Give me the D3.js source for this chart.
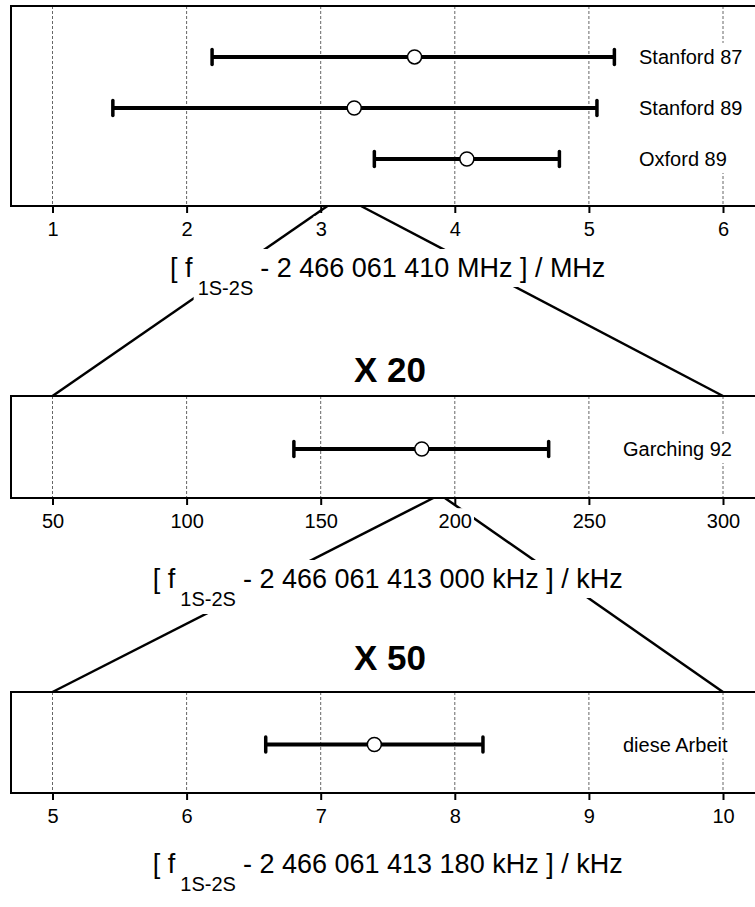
<!DOCTYPE html>
<html>
<head>
<meta charset="utf-8">
<script src="https://cdn.jsdelivr.net/npm/d3@7"></script>
<style>
  body { margin: 0; background: #fff; }
  svg { display: block; }
</style>
</head>
<body>
<svg id="chart" width="755" height="907"></svg>
<script>
"use strict";

// Panel 1: [f - 2 466 061 410 MHz] / MHz
var mhzLabels = ["Stanford 87", "Stanford 89", "Oxford 89"];
var mhzCenter = [3.70, 3.25, 4.09];
var mhzLow    = [2.19, 1.45, 3.40];
var mhzHigh   = [5.19, 5.06, 4.78];
var mhzTicks  = [1, 2, 3, 4, 5, 6];

// Panel 2: [f - 2 466 061 413 000 kHz] / kHz
var khzLabels = ["Garching 92"];
var khzCenter = [187.7];
var khzLow    = [140];
var khzHigh   = [235];
var khzTicks  = [50, 100, 150, 200, 250, 300];

// Panel 3: [f - 2 466 061 413 180 kHz] / kHz
var fineLabels = ["diese Arbeit"];
var fineCenter = [7.40];
var fineLow    = [6.59];
var fineHigh   = [8.21];
var fineTicks  = [5, 6, 7, 8, 9, 10];

// Zoom connectors: [left, right] on the upper axis -> [left, right] on the lower panel top
var zoomFrom1 = [3.05, 3.30];
var zoomTo2   = [50, 300];
var zoomFrom2 = [192, 196.3];
var zoomTo3   = [5, 10];

var zoomFactors = ["X 20", "X 50"];

var titleHead  = "[ f";
var titleSub   = "1S-2S";
var titleTails = [
    "- 2 466 061 410 MHz ] / MHz",
    "- 2 466 061 413 000 kHz ] / kHz",
    "- 2 466 061 413 180 kHz ] / kHz"
];

var FONT = "'Liberation Sans', Arial, Helvetica, sans-serif";

var layout = { left: 11, right: 762, x0: 52.5, x1: 723 };

var panels = [
    { top: 6,   bottom: 206, titleY: 277, labelX: 639, labels: mhzLabels,  center: mhzCenter,  low: mhzLow,  high: mhzHigh,  ticks: mhzTicks,  tail: titleTails[0] },
    { top: 396, bottom: 498, titleY: 588, labelX: 623, labels: khzLabels,  center: khzCenter,  low: khzLow,  high: khzHigh,  ticks: khzTicks,  tail: titleTails[1] },
    { top: 692, bottom: 793, titleY: 873, labelX: 623, labels: fineLabels, center: fineCenter, low: fineLow, high: fineHigh, ticks: fineTicks, tail: titleTails[2] }
];
var factorY = [382, 670];

var svg = d3.select("#chart");

// Scales for each panel
panels.forEach(function(p){
    p.x = d3.scaleLinear()
        .domain([p.ticks[0], p.ticks[p.ticks.length - 1]])
        .range([layout.x0, layout.x1]);
    p.y = d3.scalePoint()
        .domain(p.labels)
        .range([p.top, p.bottom])
        .padding(0.96).align(0.52);
});

// Zoom connector lines (drawn first, text backings cover them)
var connectors = svg.append("g").attr("id", "connectors");
function connect(upper, lower, from, to){
    connectors.selectAll(null)
        .data(d3.zip(from, to))
        .join("line")
        .attr("x1", function(d){ return upper.x(d[0]); })
        .attr("y1", upper.bottom)
        .attr("x2", function(d){ return lower.x(d[1]); })
        .attr("y2", lower.top)
        .attr("stroke", "#000")
        .attr("stroke-width", 2.5);
}
connect(panels[0], panels[1], zoomFrom1, zoomTo2);
connect(panels[1], panels[2], zoomFrom2, zoomTo3);

// White box behind a bounding box, placed before a given node
function whiteBox(parent, before, b, pad){
    parent.insert("rect", function(){ return before; })
        .attr("x", b.x - pad).attr("y", b.y - pad)
        .attr("width", b.width + 2 * pad).attr("height", b.height + 2 * pad)
        .attr("fill", "#fff");
}

// Panels
panels.forEach(function(p){
    var g = svg.append("g");

    // Dashed grid lines at each tick
    g.selectAll("line.grid")
        .data(p.ticks)
        .join("line")
        .attr("class", "grid")
        .attr("x1", p.x).attr("x2", p.x)
        .attr("y1", p.top).attr("y2", p.bottom)
        .attr("stroke", "#666")
        .attr("stroke-width", 1)
        .attr("stroke-dasharray", "3,2");

    // Labels on the right, with a white column behind them
    var lg = g.append("g");
    lg.selectAll("text")
        .data(p.labels)
        .join("text")
        .attr("x", p.labelX)
        .attr("y", function(d){ return p.y(d); })
        .attr("dy", "0.35em")
        .attr("font-family", FONT)
        .attr("font-size", 20)
        .text(function(d){ return d; });
    whiteBox(lg, lg.select("text").node(), lg.node().getBBox(), 3);

    // Error bars
    var bars = g.selectAll("g.bar")
        .data(p.labels.map(function(d, i){
            return { label: d, c: p.center[i], lo: p.low[i], hi: p.high[i] };
        }))
        .join("g")
        .attr("class", "bar");
    bars.append("line")
        .attr("x1", function(d){ return p.x(d.lo); })
        .attr("x2", function(d){ return p.x(d.hi); })
        .attr("y1", function(d){ return p.y(d.label); })
        .attr("y2", function(d){ return p.y(d.label); })
        .attr("stroke", "#000").attr("stroke-width", 4);
    ["lo", "hi"].forEach(function(k){
        bars.append("line")
            .attr("x1", function(d){ return p.x(d[k]); })
            .attr("x2", function(d){ return p.x(d[k]); })
            .attr("y1", function(d){ return p.y(d.label) - 7.5; })
            .attr("y2", function(d){ return p.y(d.label) + 7.5; })
            .attr("stroke", "#000").attr("stroke-width", 3.5)
            .attr("stroke-linecap", "round");
    });
    bars.append("circle")
        .attr("cx", function(d){ return p.x(d.c); })
        .attr("cy", function(d){ return p.y(d.label); })
        .attr("r", 7)
        .attr("fill", "#fff").attr("stroke", "#000").attr("stroke-width", 1.5);

    // Frame
    g.append("rect")
        .attr("x", layout.left).attr("y", p.top)
        .attr("width", layout.right - layout.left).attr("height", p.bottom - p.top)
        .attr("fill", "none").attr("stroke", "#000").attr("stroke-width", 2);

    // Bottom axis
    var ag = g.append("g")
        .attr("transform", "translate(0," + p.bottom + ")")
        .call(d3.axisBottom(p.x)
            .tickValues(p.ticks)
            .tickSizeInner(7).tickSizeOuter(0)
            .tickPadding(9)
            .tickFormat(d3.format("d")));
    ag.attr("font-family", FONT).attr("font-size", 20);
    ag.select(".domain").remove();
    ag.selectAll(".tick line").attr("stroke", "#000").attr("stroke-width", 2);
    ag.selectAll(".tick text").attr("fill", "#000");
    ag.selectAll(".tick").each(function(){
        var t = d3.select(this).select("text").node();
        whiteBox(d3.select(this), t, t.getBBox(), 2);
    });

    // Axis title: [ f_1S-2S - ... ]
    var tg = g.append("g");
    var head = tg.append("text")
        .attr("x", 0).attr("y", p.titleY)
        .attr("font-family", FONT).attr("font-size", 27)
        .text(titleHead);
    var headW = head.node().getComputedTextLength();
    var sub = tg.append("text")
        .attr("x", headW + 5).attr("y", p.titleY + 18)
        .attr("font-family", FONT).attr("font-size", 20)
        .text(titleSub);
    var subEnd = headW + 5 + sub.node().getComputedTextLength();
    var tail = tg.append("text")
        .attr("x", subEnd + 7).attr("y", p.titleY)
        .attr("font-family", FONT).attr("font-size", 27)
        .text(p.tail);
    var total = subEnd + 7 + tail.node().getComputedTextLength();
    tg.attr("transform", "translate(" + ((layout.x0 + layout.x1) / 2 - total / 2) + ",0)");

    // one backing for the main line, one for the subscript
    var hb = head.node().getBBox(), tb = tail.node().getBBox();
    var top = Math.min(hb.y, tb.y), bot = Math.max(hb.y + hb.height, tb.y + tb.height);
    whiteBox(tg, head.node(), { x: hb.x, y: top, width: tb.x + tb.width - hb.x, height: bot - top }, 4);
    whiteBox(tg, head.node(), sub.node().getBBox(), 4);
});

// Magnification labels between panels
svg.selectAll("text.factor")
    .data(zoomFactors)
    .join("text")
    .attr("class", "factor")
    .attr("x", 390)
    .attr("y", function(d, i){ return factorY[i]; })
    .attr("text-anchor", "middle")
    .attr("font-family", FONT)
    .attr("font-size", 35)
    .attr("font-weight", "bold")
    .text(function(d){ return d; });
</script>
</body>
</html>
